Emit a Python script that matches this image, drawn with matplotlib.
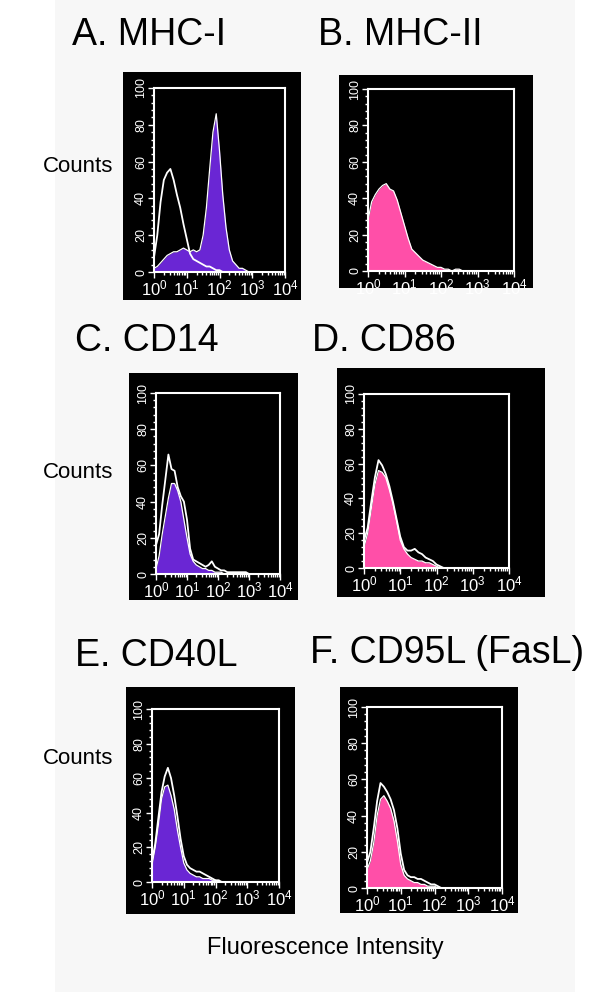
import numpy as np
import matplotlib.pyplot as plt
from matplotlib.patches import Rectangle
from matplotlib.ticker import MultipleLocator, LogLocator

plt.rcParams['font.family'] = ['Liberation Sans', 'DejaVu Sans']

W, H = 600, 992

# log10 channel positions (0.0 .. 3.0 every 0.1 decade)
log_channel = [0.0, 0.1, 0.2, 0.3, 0.4, 0.5, 0.6, 0.7, 0.8, 0.9,
               1.0, 1.1, 1.2, 1.3, 1.4, 1.5, 1.6, 1.7, 1.8, 1.9,
               2.0, 2.1, 2.2, 2.3, 2.4, 2.5, 2.6, 2.7, 2.8, 2.9, 3.0]

titles = ["A. MHC-I", "B. MHC-II", "C. CD14", "D. CD86", "E. CD40L", "F. CD95L (FasL)"]

# stained sample (filled) counts
mhc1_stain = [2, 3, 5, 7, 9, 10, 11, 11, 12, 13, 12, 11, 12, 11, 12, 20, 35, 56, 76, 86,
              66, 42, 24, 12, 6, 4, 2, 2, 1, 0, 0]
mhc2_stain = [28, 38, 42, 45, 47, 48, 45, 44, 39, 32, 25, 18, 12, 10, 8, 6, 5, 4, 3, 2,
              2, 1, 1, 0, 1, 1, 0, 0, 0, 0, 0]
cd14_stain = [3, 10, 22, 32, 42, 50, 50, 46, 40, 30, 20, 11, 7, 5, 4, 3, 3, 2, 2, 1,
              1, 1, 0, 0, 0, 0, 0, 0, 0, 0, 0]
cd86_stain = [12, 20, 34, 48, 56, 55, 52, 45, 37, 27, 16, 11, 8, 6, 5, 4, 4, 3, 3, 2,
              1, 0, 0, 0, 0, 0, 0, 0, 0, 0, 0]
cd40l_stain = [10, 20, 33, 48, 55, 56, 50, 42, 30, 20, 11, 7, 5, 4, 3, 3, 2, 2, 2, 1,
               1, 0, 0, 0, 0, 0, 0, 0, 0, 0, 0]
cd95l_stain = [10, 15, 25, 40, 49, 51, 48, 44, 37, 26, 13, 7, 5, 4, 3, 3, 2, 2, 1, 1,
               1, 0, 0, 0, 0, 0, 0, 0, 0, 0, 0]

# isotype control (open outline) counts
mhc1_ctrl = [8, 20, 38, 50, 54, 56, 50, 42, 35, 26, 18, 10, 7, 6, 5, 4, 3, 3, 2, 1,
             1, 0, 0, 0, 0, 0, 0, 0, 0, 0, 0]
mhc2_ctrl = None
cd14_ctrl = [16, 22, 38, 52, 66, 58, 57, 48, 43, 40, 30, 14, 8, 7, 6, 5, 4, 5, 7, 4,
             3, 2, 2, 1, 1, 1, 1, 1, 1, 1, 0]
cd86_ctrl = [16, 23, 38, 52, 62, 59, 54, 47, 38, 28, 18, 12, 10, 10, 11, 9, 8, 6, 5, 4,
             2, 1, 0, 0, 0, 0, 0, 0, 0, 0, 0]
cd40l_ctrl = [12, 22, 37, 52, 61, 66, 60, 50, 38, 25, 15, 10, 8, 7, 6, 6, 5, 4, 3, 2,
              1, 1, 0, 0, 0, 0, 0, 0, 0, 0, 0]
cd95l_ctrl = [14, 20, 33, 48, 58, 56, 53, 49, 43, 33, 19, 10, 7, 6, 6, 5, 5, 4, 3, 2,
              2, 1, 0, 0, 0, 0, 0, 0, 0, 0, 0]

stains = [mhc1_stain, mhc2_stain, cd14_stain, cd86_stain, cd40l_stain, cd95l_stain]
ctrls = [mhc1_ctrl, mhc2_ctrl, cd14_ctrl, cd86_ctrl, cd40l_ctrl, cd95l_ctrl]

purple = '#6a26d4'
pink = '#ff4fa8'
fills = [purple, pink, purple, pink, purple, pink]

# layout in pixels: plot frame (x0, x1, top, bottom), black box, title anchor
frames = [(154, 285, 88, 272), (368, 514, 89, 271),
          (156, 280, 393, 574), (364, 509, 394, 568),
          (152, 279, 709, 882), (367, 502, 707, 888)]
boxes = [(123, 301, 72, 300), (339, 533, 75, 288),
         (129, 298, 373, 600), (337, 545, 368, 597),
         (126, 295, 687, 914), (340, 518, 687, 913)]
title_pos = [(72, 45), (318, 45), (75, 351), (312, 351), (75, 666), (310, 663)]
counts_y = [166, 473, 758]

fig = plt.figure(figsize=(W / 100, H / 100), dpi=100)
fig.patch.set_facecolor('white')

def fx(px):
    return px / W

def fy(py):
    return 1 - py / H

# light grey page background
fig.add_artist(Rectangle((fx(55), 0), fx(575) - fx(55), 1, transform=fig.transFigure,
                         facecolor='#f7f7f7', edgecolor='none', zorder=0))

x = 10 ** np.array(log_channel)

for i in range(6):
    bx0, bx1, by0, by1 = boxes[i]
    fig.add_artist(Rectangle((fx(bx0), fy(by1)), fx(bx1) - fx(bx0), fy(by0) - fy(by1),
                             transform=fig.transFigure, facecolor='black',
                             edgecolor='none', zorder=1))
    x0, x1, y0, y1 = frames[i]
    ax = fig.add_axes([fx(x0), fy(y1), fx(x1) - fx(x0), fy(y0) - fy(y1)])
    ax.set_zorder(2)
    ax.set_facecolor('black')

    ax.fill_between(x, stains[i], color=fills[i], linewidth=0)
    ax.plot(x, stains[i], color='white', linewidth=0.9)
    if ctrls[i] is not None:
        ax.plot(x, ctrls[i], color='white', linewidth=1.3)

    ax.set_xscale('log')
    ax.set_xlim(1, 1e4)
    ax.set_ylim(0, 100)
    ax.yaxis.set_major_locator(MultipleLocator(20))
    ax.yaxis.set_minor_locator(MultipleLocator(4))
    ax.xaxis.set_major_locator(LogLocator(base=10, numticks=10))
    ax.xaxis.set_minor_locator(LogLocator(base=10, subs=np.arange(2, 10), numticks=10))

    for sp in ax.spines.values():
        sp.set_color('white')
        sp.set_linewidth(1.5)
    ax.tick_params(which='both', colors='white', direction='out', width=1)
    ax.tick_params(which='major', length=4, labelsize=12, pad=1)
    ax.tick_params(which='minor', length=2.5)
    ax.tick_params(axis='y', labelsize=9, labelrotation=90, pad=1)
    for lab in ax.get_yticklabels():
        lab.set_verticalalignment('center')

    tx, ty = title_pos[i]
    fig.text(fx(tx), fy(ty), titles[i], fontsize=27, color='black',
             ha='left', va='baseline')

for cy in counts_y:
    fig.text(fx(113), fy(cy), "Counts", fontsize=16, color='black',
             ha='right', va='center')

fig.text(fx(325), fy(948), "Fluorescence Intensity", fontsize=17, color='black',
         ha='center', va='center')

fig.savefig('out.png', dpi=100, facecolor=fig.get_facecolor())
